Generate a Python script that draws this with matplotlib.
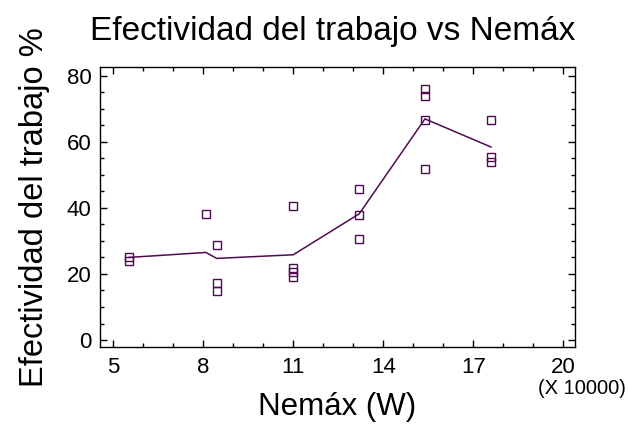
import matplotlib
matplotlib.use("Agg")
import matplotlib.pyplot as plt
from matplotlib.ticker import FixedLocator, MultipleLocator

plt.rcParams["font.family"] = ["Liberation Sans", "DejaVu Sans"]

PURPLE = "#500a50"

# observations (Nemáx in units of 10000 W)
nemax = [5.53, 5.53, 8.09, 8.45, 8.45, 8.45,
         11.0, 11.0, 11.0, 11.0, 13.2, 13.2, 13.2,
         15.39, 15.39, 15.39, 15.39, 17.59, 17.59, 17.59]
efect = [25.2, 23.9, 38.1, 28.8, 17.4, 14.9,
         40.7, 21.7, 20.5, 19.0, 45.7, 37.8, 30.5,
         76.0, 73.7, 66.5, 51.8, 66.5, 55.4, 54.0]

# smoothed fit line
fit_x = [5.53, 8.09, 8.45, 11.0, 13.2, 15.39, 17.59]
fit_y = [25.0, 26.5, 24.7, 25.8, 38.2, 66.9, 58.4]

x_ticks = [5, 8, 11, 14, 17, 20]

fig = plt.figure(figsize=(6.28, 4.25), dpi=100)
ax = fig.add_axes([100 / 628, 1 - 347 / 425, 475 / 628, 280 / 425])

ax.plot(fit_x, fit_y, color=PURPLE, lw=1.1)
ax.plot(nemax, efect, linestyle="none", marker="s", markersize=5.5,
        markerfacecolor="none", markeredgecolor=PURPLE, markeredgewidth=1.0)

ax.set_xlim(4.56, 20.39)
ax.set_ylim(-2.1, 82.6)
ax.xaxis.set_major_locator(FixedLocator(x_ticks))
ax.xaxis.set_minor_locator(MultipleLocator(1))
ax.yaxis.set_major_locator(MultipleLocator(20))
ax.yaxis.set_minor_locator(MultipleLocator(5))
ax.tick_params(which="both", direction="in", top=True, right=True,
               labelsize=16, width=1.0)
ax.tick_params(axis="x", which="major", length=5, pad=7)
ax.tick_params(axis="y", which="major", length=5, pad=6)
ax.tick_params(which="minor", length=3)
for s in ax.spines.values():
    s.set_linewidth(1.0)

fig.text(333 / 628, 1 - 40 / 425, "Efectividad del trabajo vs Nemáx",
         fontsize=24, ha="center", va="baseline")
ax.set_xlabel("Nemáx (W)", fontsize=22.5, labelpad=10)
ax.set_ylabel("Efectividad del trabajo %", fontsize=23.5, labelpad=12)
fig.text(582 / 628, 1 - 388 / 425, "(X 10000)", fontsize=14.5,
         ha="center", va="center")

fig.savefig("out.png", dpi=100)
